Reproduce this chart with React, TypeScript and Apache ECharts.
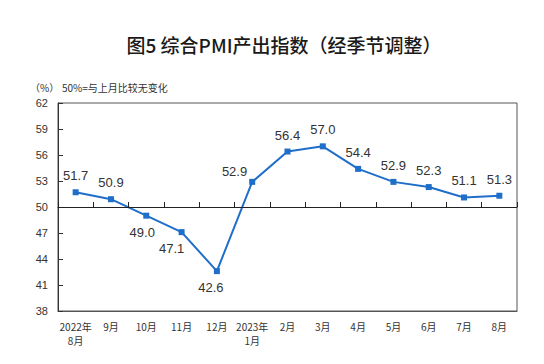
import React, { useEffect, useRef } from "react";
import * as echarts from "echarts";

const categories = ["2022年\n8月", "9月", "10月", "11月", "12月", "2023年\n1月", "2月", "3月", "4月", "5月", "6月", "7月", "8月"];
const values = [51.7, 50.9, 49.0, 47.1, 42.6, 52.9, 56.4, 57.0, 54.4, 52.9, 52.3, 51.1, 51.3];
const labelPositions = ["top", "top", "bottom", "bottom", "bottom", "left", "top", "top", "top", "top", "top", "top", "top"];
const yTicks = [38, 41, 44, 47, 50, 53, 56, 59, 62];
const baseline = 50;

export default function App() {
  const ref = useRef<HTMLDivElement>(null);
  useEffect(() => {
    if (!ref.current) return;
    const chart = echarts.init(ref.current, undefined, { renderer: "svg" });
    const labelOffsets: Record<number, number[]> = { 3: [-10, 0], 4: [-6, 0], 2: [-4, 0], 5: [0, -10] };
    const data = values.map((v, i) => ({
      value: v,
      label: {
        show: true,
        position: labelPositions[i],
        distance: labelPositions[i] === "left" ? 2 : 7,
        offset: labelOffsets[i] || [0, 0],
        formatter: (p: any) => Number(p.value).toFixed(1),
      },
    }));
    const plotH = 364 - 103 - 53;
    const yMin = yTicks[0];
    const yMax = yTicks[yTicks.length - 1];
    const baseOffset = -((baseline - yMin) / (yMax - yMin)) * plotH;
    chart.setOption({
      animation: false,
      backgroundColor: "#ffffff",
      title: {
        text: "图5 综合PMI产出指数（经季节调整）",
        left: 279,
        top: 30,
        textAlign: "center",
        textStyle: { fontFamily: "Noto Sans CJK SC", fontSize: 19, fontWeight: 500, color: "#1a1a1a" },
      },
      graphic: [
        { type: "text", left: 30, top: 82, style: { text: "（%）", fontSize: 10, fontFamily: "Noto Sans CJK SC", fill: "#333" } },
        { type: "text", left: 62, top: 82, style: { text: "50%=与上月比较无变化", fontSize: 10, fontFamily: "Noto Sans CJK SC", fill: "#333" } },
      ],
      grid: { left: 58, top: 103, right: 27, bottom: 53, show: true, borderColor: "#555", borderWidth: 1 },
      xAxis: [
        {
          type: "category",
          data: categories,
          position: "bottom",
          offset: baseOffset,
          axisLine: { show: true, onZero: false, lineStyle: { color: "#222", width: 1 } },
          axisTick: { show: true, inside: true, interval: 0, length: 5, lineStyle: { color: "#222", width: 1 } },
          axisLabel: { show: true, interval: 0, color: "rgba(0,0,0,0)", fontSize: 1, formatter: () => "" },
          z: 5,
        },
        {
          type: "category",
          data: categories,
          position: "bottom",
          axisLine: { onZero: false, lineStyle: { color: "#555" } },
          axisTick: { show: false },
          axisLabel: { show: true, interval: 0, fontSize: 10, color: "#333", fontFamily: "Noto Sans CJK SC", margin: 8, lineHeight: 14 },
        },
      ],
      yAxis: [
        {
          type: "value",
          min: yMin,
          max: yMax,
          interval: 3,
          axisLine: { show: true, lineStyle: { color: "#333" } },
          axisTick: { show: true, inside: true, length: 5, lineStyle: { color: "#333" } },
          axisLabel: { fontSize: 11, color: "#333", fontFamily: "Liberation Sans", margin: 10 },
          splitLine: { show: false },
        },
      ],
      series: [
        {
          type: "line",
          xAxisIndex: 0,
          yAxisIndex: 0,
          data,
          symbol: "rect",
          symbolSize: 6,
          lineStyle: { color: "#1f6ec9", width: 2 },
          itemStyle: { color: "#1f6ec9" },
          label: { fontSize: 13, color: "#333", fontFamily: "Liberation Sans" },
        },
      ],
    });
    return () => chart.dispose();
  }, []);
  return <div ref={ref} style={{ width: 544, height: 364, margin: -8 }} />;
}
